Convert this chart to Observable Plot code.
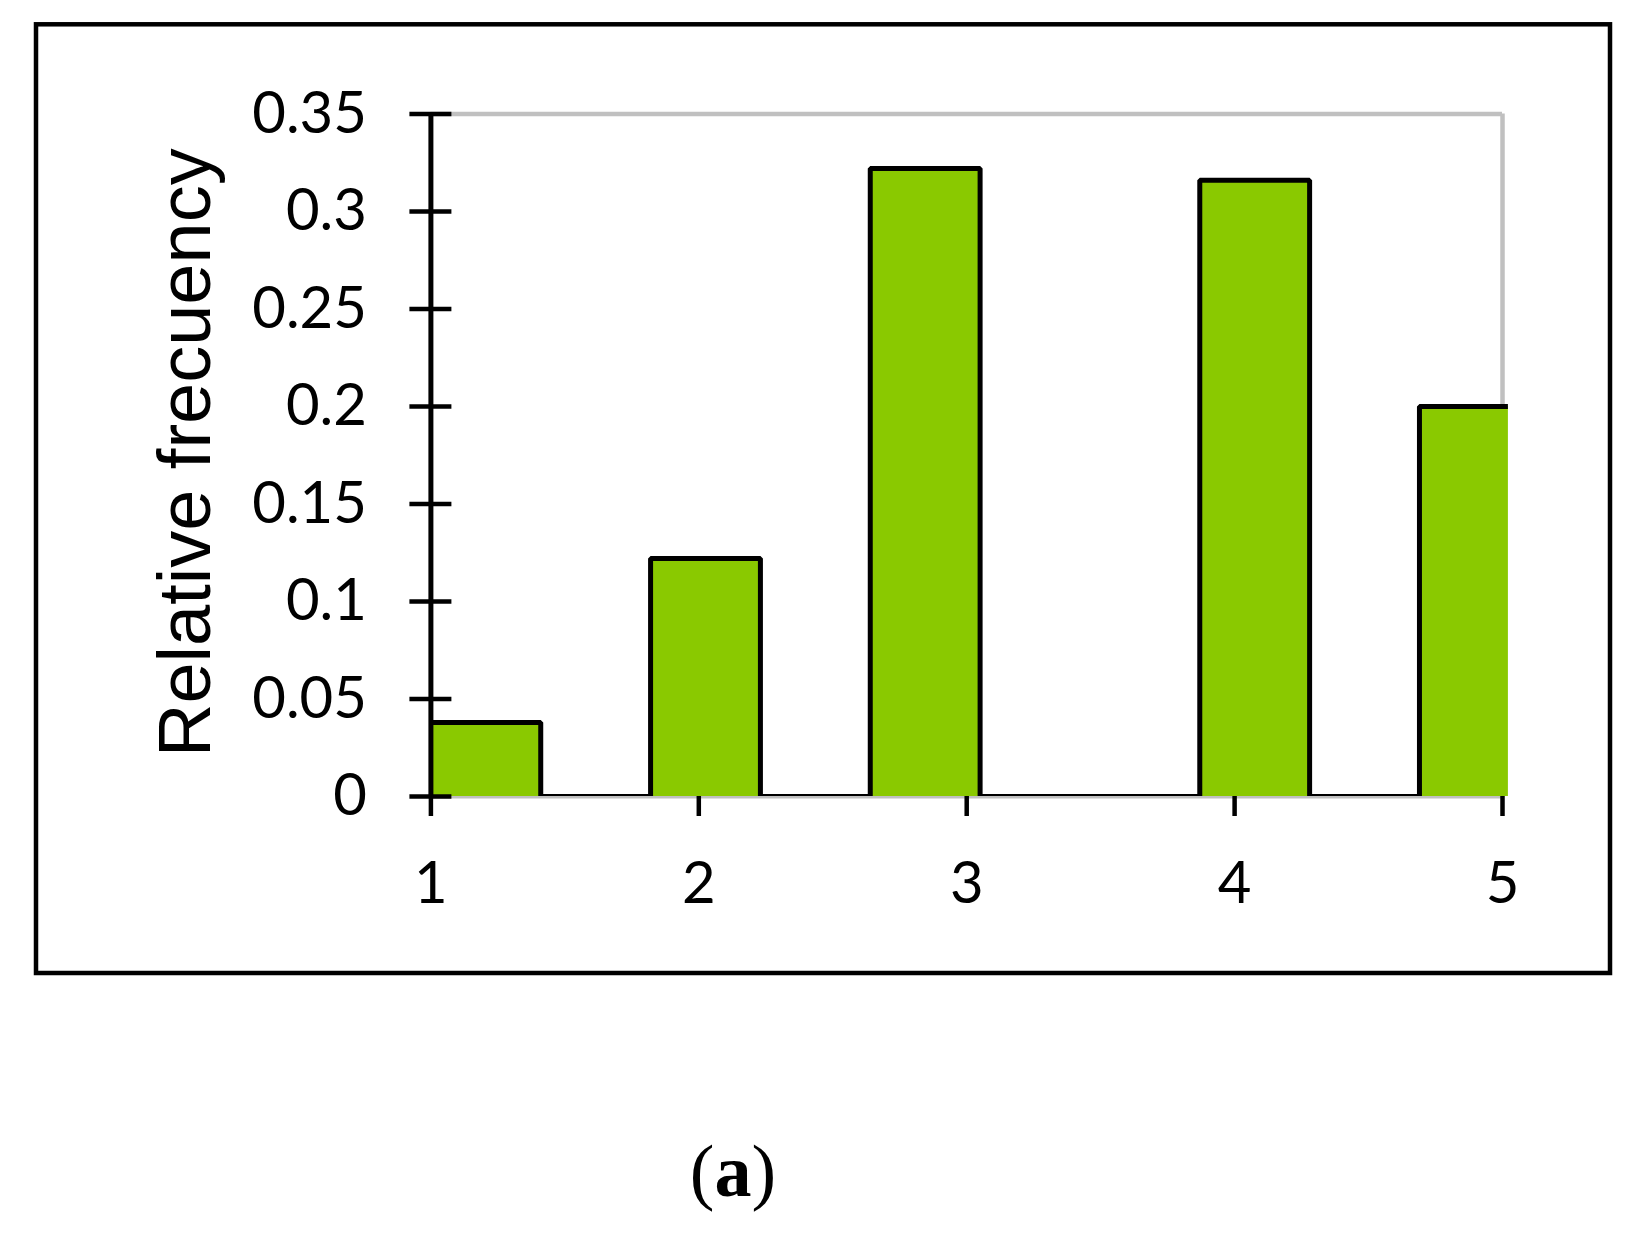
<!DOCTYPE html>
<html>
<head>
<meta charset="utf-8">
<script src="https://cdn.jsdelivr.net/npm/d3@7"></script>
<script src="https://cdn.jsdelivr.net/npm/@observablehq/plot@0.6"></script>
<style>
  html, body { margin: 0; padding: 0; background: #ffffff; }
  #chart svg { display: block; }
</style>
</head>
<body>
<div id="chart"></div>
<script>
// ---- data ----
const binEdges = [1, 1.41, 1.82, 2.23, 2.64, 3.05, 3.46, 3.87, 4.28, 4.69, 5.1];
const relativeFrequency = [0.038, 0, 0.122, 0, 0.322, 0, 0, 0.316, 0, 0.2];
const xTicks = [1, 2, 3, 4, 5];
const xTickLabels = ["1", "2", "3", "4", "5"];
const yTicks = [0, 0.05, 0.1, 0.15, 0.2, 0.25, 0.3, 0.35];
const yTickLabels = ["0", "0.05", "0.1", "0.15", "0.2", "0.25", "0.3", "0.35"];
const yLabel = "Relative frecuency";
const caption = ["(", "a", ")"];

// ---- layout ----
const W = 1651, H = 1251;
const xMin = 1, xMax = 5, xClip = 5.022;
const yMin = 0, yMax = 0.35;
const green = "#8AC900";
const grey = "#c0c0c0";

const bins = relativeFrequency.map((f, i) => ({x1: binEdges[i], x2: binEdges[i + 1], y: f}));
const steps = binEdges.map((e, i) => ({x: e, y: relativeFrequency[Math.min(i, relativeFrequency.length - 1)]}));

const plot = Plot.plot({
  width: W,
  height: H,
  marginLeft: 430.4,
  marginRight: 143.1,
  marginTop: 113.5,
  marginBottom: 455,
  style: {fontFamily: "Lato, sans-serif", background: "#ffffff", color: "#000000"},
  x: {domain: [xMin, xClip], axis: null, label: null},
  y: {domain: [yMin, yMax], axis: null, label: null},
  marks: [
    // plot-area border (grey)
    Plot.ruleY([yMax], {x1: xMin, x2: xMax, stroke: grey, strokeWidth: 4.5}),
    Plot.ruleX([xMax], {y1: yMin, y2: yMax, stroke: grey, strokeWidth: 4.5}),
    Plot.ruleY([yMin], {x1: xMin, x2: xMax, stroke: grey, strokeWidth: 4}),
    // bars
    Plot.rectY(bins, {x1: "x1", x2: "x2", y: "y", fill: green, clip: true}),
    // step outline
    Plot.line(steps, {x: "x", y: "y", curve: "step-after", stroke: "#000", strokeWidth: 5,
      strokeLinejoin: "miter", strokeLinecap: "butt", clip: true}),
    // y axis line
    Plot.ruleX([xMin], {y1: yMin, y2: yMax, stroke: "#000", strokeWidth: 5}),
    // y ticks crossing the axis
    Plot.axisY(yTicks, {anchor: "left", label: null, tickSize: 42, dx: 21, strokeWidth: 4.5, tickFormat: () => ""}),
    // y tick labels
    Plot.axisY(yTicks, {anchor: "left", label: null, tickSize: 0, tickPadding: 64, fontSize: 58,
      tickFormat: d => yTickLabels[yTicks.indexOf(d)]}),
    // x axis ticks + labels
    Plot.axisX(xTicks, {anchor: "bottom", label: null, tickSize: 20, strokeWidth: 4.5, tickPadding: 45, fontSize: 58,
      tickFormat: d => xTickLabels[xTicks.indexOf(d)]})
  ]
});

const svg = d3.select(plot);
// outer frame
svg.append("rect")
  .attr("x", 36).attr("y", 24.3)
  .attr("width", 1574).attr("height", 948.7)
  .attr("fill", "none").attr("stroke", "#000").attr("stroke-width", 4.5);
// y label
svg.append("text")
  .attr("transform", "translate(210,452.7) rotate(-90)")
  .attr("text-anchor", "middle")
  .attr("font-family", "'Liberation Sans', Arial, sans-serif")
  .attr("font-size", 74)
  .attr("fill", "#000")
  .text(yLabel);
// caption
const cap = svg.append("text")
  .attr("x", 733).attr("y", 1196)
  .attr("text-anchor", "middle")
  .attr("font-family", "'Liberation Serif', 'Times New Roman', serif")
  .attr("font-size", 74)
  .attr("fill", "#000");
cap.append("tspan").text(caption[0]);
cap.append("tspan").attr("font-weight", "bold").text(caption[1]);
cap.append("tspan").text(caption[2]);

document.getElementById("chart").appendChild(plot);
</script>
</body>
</html>
